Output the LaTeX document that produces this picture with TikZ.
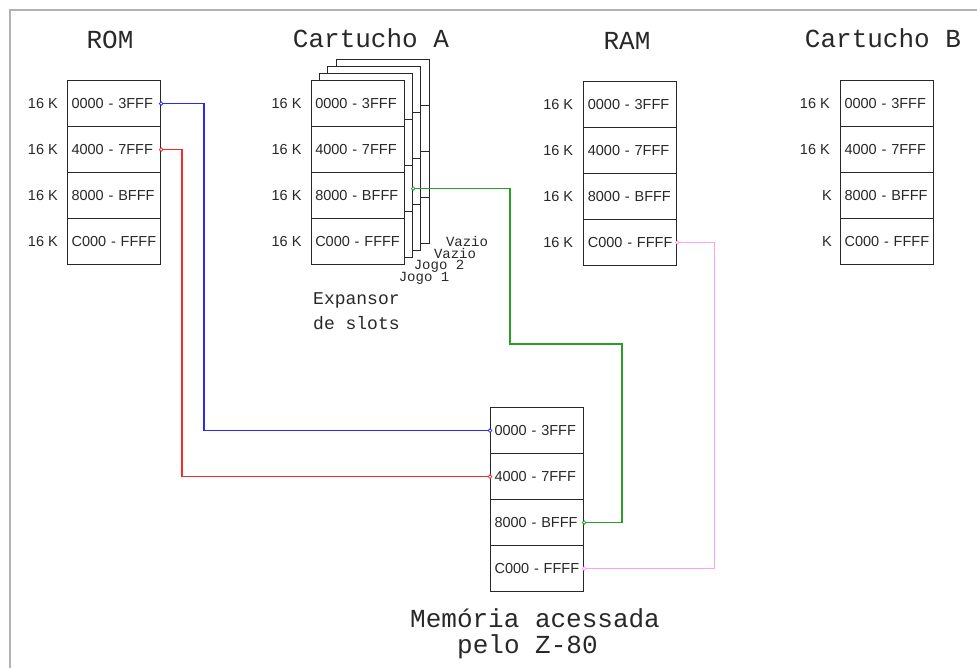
\documentclass[tikz,border=0pt]{standalone}
\usepackage{fontspec}
\setmainfont{Liberation Sans}
\newfontfamily\monof{Liberation Mono}
\definecolor{cblue}{RGB}{40,40,255}
\definecolor{cred}{RGB}{255,40,40}
\definecolor{cgreen}{RGB}{40,160,40}
\definecolor{cpink}{RGB}{255,160,255}
\definecolor{ink}{RGB}{40,40,40}
\newcommand{\rng}[1]{\mbox{#1}}
\begin{document}
\begin{tikzpicture}[x=1pt,y=-1pt,
  cell/.style={draw=ink, line width=1.1pt, fill=white, minimum width=93pt, minimum height=46pt,
    text width=85pt, inner xsep=4pt, inner ysep=0pt, align=left, anchor=north west,
    font=\fontsize{14.5}{17}\selectfont, text=ink},
  sizelab/.style={anchor=east, inner sep=0pt, font=\fontsize{14.5}{17}\selectfont, text=ink},
  title/.style={inner sep=0pt, font=\monof\fontsize{26}{30}\selectfont, text=ink},
  slotlab/.style={inner sep=0pt, font=\monof\fontsize{14}{15}\selectfont, text=ink},
  explab/.style={anchor=west, inner sep=0pt, font=\monof\fontsize{18}{20}\selectfont, text=ink},
  wire/.style={line width=1.3pt},
  dotm/.style={fill=white, line width=0.8pt}]
\useasboundingbox (0,0) rectangle (977,668);
\fill[white] (0,0) rectangle (977,668);
\draw[black!30, line width=1.3pt] (10,668) -- (10,10) -- (977,10);

% titles
\node[title] (tROM) at (110,40) {ROM};
\node[title] (tCA) at (371,38) {Cartucho A};
\node[title] (tRAM) at (627,41) {RAM};
\node[title] (tCB) at (883,38) {Cartucho B};

% ROM
\node[cell] (rom1) at (67,80) {\rng{0000 - 3FFF}};
\node[cell] (rom2) at (67,126) {\rng{4000 - 7FFF}};
\node[cell] (rom3) at (67,172) {\rng{8000 - BFFF}};
\node[cell] (rom4) at (67,218) {\rng{C000 - FFFF}};
\foreach \j in {1,...,4} \node[sizelab] (romk\j) at ([xshift=-9pt]rom\j.west) {16 K};

% Cartucho A : stacked slots
\foreach \k in {3,2,1} {
  \foreach \j in {1,...,4} {
    \node[cell] (ca\k-\j) at ({310.7+8.3*\k},{80-7*\k+46*(\j-1)}) {};
  }
}
\node[cell] (ca0-1) at (310.7,80) {\rng{0000 - 3FFF}};
\node[cell] (ca0-2) at (310.7,126) {\rng{4000 - 7FFF}};
\node[cell] (ca0-3) at (310.7,172) {\rng{8000 - BFFF}};
\node[cell] (ca0-4) at (310.7,218) {\rng{C000 - FFFF}};
\foreach \j in {1,...,4} \node[sizelab] (cak\j) at ([xshift=-9pt]ca0-\j.west) {16 K};
\node[slotlab] (v1) at (467,241) {Vazio};
\node[slotlab] (v2) at (455,253.5) {Vazio};
\node[slotlab] (j2) at (439,266) {Jogo 2};
\node[slotlab] (j1) at (424,278.5) {Jogo 1};
\node[explab] (exp1) at (313,300) {Expansor};
\node[explab] (exp2) at (313,323) {de slots};

% RAM
\node[cell] (ram1) at (583.3,81) {\rng{0000 - 3FFF}};
\node[cell] (ram2) at (583.3,127) {\rng{4000 - 7FFF}};
\node[cell] (ram3) at (583.3,173) {\rng{8000 - BFFF}};
\node[cell] (ram4) at (583.3,219) {\rng{C000 - FFFF}};
\foreach \j in {1,...,4} \node[sizelab] (ramk\j) at ([xshift=-10pt]ram\j.west) {16 K};

% Cartucho B
\node[cell] (cb1) at (840,80) {\rng{0000 - 3FFF}};
\node[cell] (cb2) at (840,126) {\rng{4000 - 7FFF}};
\node[cell] (cb3) at (840,172) {\rng{8000 - BFFF}};
\node[cell] (cb4) at (840,218) {\rng{C000 - FFFF}};
\node[sizelab] (cbk1) at ([xshift=-10pt]cb1.west) {16 K};
\node[sizelab] (cbk2) at ([xshift=-10pt]cb2.west) {16 K};
\node[sizelab] (cbk3) at ([xshift=-8pt]cb3.west) {K};
\node[sizelab] (cbk4) at ([xshift=-8pt]cb4.west) {K};

% Memory seen by Z-80
\node[cell] (mem1) at (490,407) {\rng{0000 - 3FFF}};
\node[cell] (mem2) at (490,453) {\rng{4000 - 7FFF}};
\node[cell] (mem3) at (490,499) {\rng{8000 - BFFF}};
\node[cell] (mem4) at (490,545) {\rng{C000 - FFFF}};
\node[title, anchor=west] (tm1) at (410,618) {Memória acessada};
\node[title, anchor=west] (tm2) at (457,647) {pelo Z-80};

% connectors
\coordinate (g1) at (510,344);
\coordinate (g2) at (622,344);
\draw[wire, cblue] (rom1.east) -- ++(43,0) |- (mem1.west);
\draw[wire, cred] (rom2.east) -- ++(21,0) |- (mem2.west);
\draw[wire, cgreen] (ca1-3.east) -| (g1) -- (g2) |- (mem3.east);
\draw[wire, cpink] (ram4.east) -- ++(37,0) |- (mem4.east);

\foreach \p/\c in {rom1.east/cblue, mem1.west/cblue, rom2.east/cred, mem2.west/cred,
                   ca1-3.east/cgreen, mem3.east/cgreen, ram4.east/cpink, mem4.east/cpink}
  \filldraw[dotm, draw=\c] (\p) circle (1.8pt);
\end{tikzpicture}
\end{document}
